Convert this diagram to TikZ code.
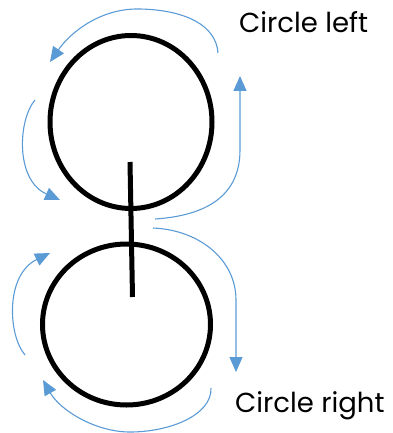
\documentclass[tikz,border=0pt]{standalone}
\usepackage{fontspec}
\setmainfont{Poppins}
\usepackage{tikz}
\usetikzlibrary{shapes.geometric, arrows.meta}
\definecolor{flowblue}{HTML}{5B9BD5}
\tikzstyle{wheel} = [
  ellipse, draw=black, line width=5pt, inner sep=0pt
]
\tikzstyle{label} = [
  anchor=west, font=\fontsize{27.5}{32}\selectfont, inner sep=0pt
]
\tikzstyle{flow} = [
  draw=flowblue, line width=1.1pt,
  -{Triangle[length=15pt, width=13pt]}
]

\begin{document}
\begin{tikzpicture}[x=1pt, y=-1pt]
  \useasboundingbox (0,0) rectangle (392,433);

  % Wheels
  \node[wheel, minimum width=162pt, minimum height=173pt] (topwheel) at (131,122) {};
  \node[wheel, minimum width=168pt, minimum height=161pt] (botwheel) at (126.5,324.5) {};

  % Stem joining the wheels
  \coordinate (stemtop) at (130,162);
  \coordinate (stembot) at (132.5,297);
  \draw[line width=5pt] (stemtop) -- (stembot);

  % Labels
  \node[label] (leftlbl) at (239,22) {Circle left};
  \node[label] (rightlbl) at (235,406) {Circle right};

  % Arrow ends
  \coordinate (a1s) at (218,53);   \coordinate (a1e) at (50,62);
  \coordinate (a2s) at (35,100);   \coordinate (a2e) at (60,200);
  \coordinate (a3s) at (155,219);  \coordinate (a3e) at (240,76);
  \coordinate (a4s) at (153,228);  \coordinate (a4e) at (236,372);
  \coordinate (a5s) at (25,355);   \coordinate (a5e) at (50,253);
  \coordinate (a6s) at (211,388);  \coordinate (a6e) at (43,380);

  % Around the top wheel
  \draw[flow] (a1s) .. controls (216,25) and (185,10) .. (140,9)
                    .. controls (100,8) and (70,33) .. (a1e);
  \draw[flow] (a2s) .. controls (18,120) and (15,180) .. (a2e);
  \draw[flow] (a3s) .. controls (200,216) and (240,200) .. (240,150) -- (a3e);

  % Around the bottom wheel
  \draw[flow] (a4s) .. controls (200,230) and (236,260) .. (236,300) -- (a4e);
  \draw[flow] (a5s) .. controls (8,335) and (5,275) .. (a5e);
  \draw[flow] (a6s) .. controls (212,415) and (170,432) .. (130,432)
                    .. controls (95,432) and (60,410) .. (a6e);

\end{tikzpicture}
\end{document}
